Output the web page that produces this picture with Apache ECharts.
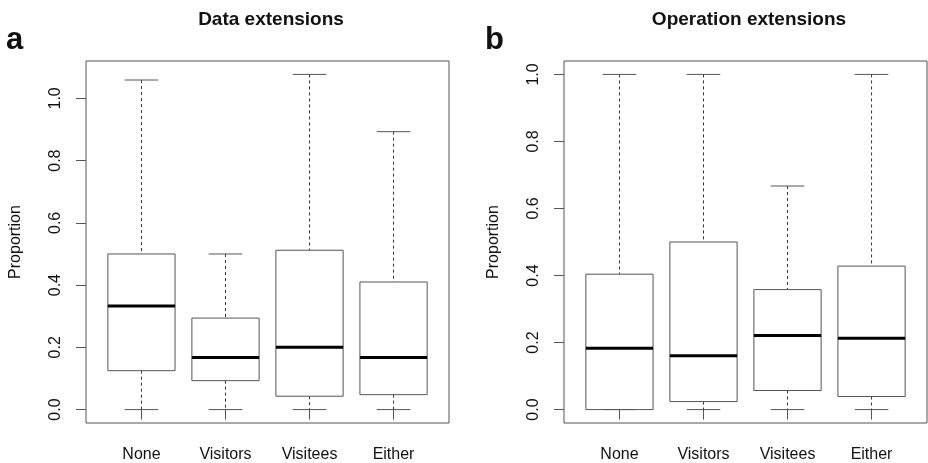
<!DOCTYPE html>
<html>
<head>
<meta charset="utf-8">
<script src="https://cdn.jsdelivr.net/npm/echarts@6/dist/echarts.min.js"></script>
<style>
  html, body { margin: 0; padding: 0; background: #fff; }
  #chart { width: 928px; height: 463px; }
</style>
</head>
<body>
<div id="chart"></div>
<script>
// categories shared by both panels
const categories = ['None', 'Visitors', 'Visitees', 'Either'];
const yTicks = [0, 0.2, 0.4, 0.6, 0.8, 1.0];

// a: data extensions
const dataMin = [0, 0, 0, 0];
const dataQ1 = [0.125, 0.093, 0.043, 0.048];
const dataMedian = [0.333, 0.167, 0.2, 0.167];
const dataQ3 = [0.5, 0.294, 0.512, 0.41];
const dataMax = [1.059, 0.5, 1.077, 0.893];

// b: operation extensions
const opMin = [0, 0, 0, 0];
const opQ1 = [0, 0.024, 0.057, 0.039];
const opMedian = [0.183, 0.161, 0.221, 0.213];
const opQ3 = [0.404, 0.5, 0.358, 0.428];
const opMax = [1, 1, 0.667, 1];

function rows(lo, q1, med, q3, hi) {
  return categories.map((c, i) => [i + 1, lo[i], q1[i], med[i], q3[i], hi[i]]);
}

// R-style box: dashed whiskers, half-width caps, thick median
function renderBox(params, api) {
  const x = api.value(0);
  const p = (v) => api.coord([x, v]);
  const half = api.size([0.4, 0])[0];
  const cap = half / 2;
  const lo = p(api.value(1)), q1 = p(api.value(2)), med = p(api.value(3));
  const q3 = p(api.value(4)), hi = p(api.value(5));
  const cx = lo[0];
  const grey = { stroke: '#555', lineWidth: 1, fill: null };
  const dash = { stroke: '#333', lineWidth: 1, lineDash: [3, 3] };
  return {
    type: 'group',
    children: [
      { type: 'line', shape: { x1: cx, y1: hi[1], x2: cx, y2: q3[1] }, style: dash },
      { type: 'line', shape: { x1: cx, y1: q1[1], x2: cx, y2: lo[1] }, style: dash },
      { type: 'line', shape: { x1: cx - cap, y1: hi[1], x2: cx + cap, y2: hi[1] }, style: grey },
      { type: 'line', shape: { x1: cx - cap, y1: lo[1], x2: cx + cap, y2: lo[1] }, style: grey },
      { type: 'rect', shape: { x: cx - half, y: q3[1], width: half * 2, height: q1[1] - q3[1] },
        style: { stroke: '#555', lineWidth: 1, fill: '#fff' } },
      { type: 'line', shape: { x1: cx - half, y1: med[1], x2: cx + half, y2: med[1] },
        style: { stroke: '#000', lineWidth: 3 } }
    ]
  };
}

const font = 'Liberation Sans, Arial, sans-serif';

function xAxis(idx) {
  return {
    type: 'value', gridIndex: idx, min: 0.34, max: 4.66,
    axisLine: { show: false }, splitLine: { show: false },
    axisTick: { show: true, length: 10, customValues: [1, 2, 3, 4], lineStyle: { color: '#555' } },
    axisLabel: {
      customValues: [1, 2, 3, 4], margin: 24, fontSize: 16, color: '#111', fontFamily: font,
      formatter: (v) => categories[Math.round(v) - 1]
    }
  };
}

function yAxis(idx, min, max) {
  return {
    type: 'value', gridIndex: idx, min: min, max: max,
    name: 'Proportion', nameLocation: 'middle', nameRotate: 90, nameGap: 62,
    nameTextStyle: { fontSize: 16, color: '#111', fontFamily: font },
    axisLine: { show: false }, splitLine: { show: false },
    axisTick: { show: true, length: 10, customValues: yTicks, lineStyle: { color: '#555' } },
    axisLabel: {
      customValues: yTicks, rotate: 90, margin: 22, fontSize: 16, color: '#111', fontFamily: font,
      formatter: (v) => v.toFixed(1)
    }
  };
}

const chart = echarts.init(document.getElementById('chart'));
chart.setOption({
  animation: false,
  title: [
    { text: 'Data extensions', left: 271, top: 10, padding: 0, textAlign: 'center',
      textStyle: { fontSize: 19, fontWeight: 'bold', color: '#111', fontFamily: font } },
    { text: 'Operation extensions', left: 749, top: 10, padding: 0, textAlign: 'center',
      textStyle: { fontSize: 19, fontWeight: 'bold', color: '#111', fontFamily: font } },
    { text: 'a', left: 6, top: 25, padding: 0,
      textStyle: { fontSize: 31, fontWeight: 'bold', color: '#111', fontFamily: font } },
    { text: 'b', left: 485, top: 25, padding: 0,
      textStyle: { fontSize: 31, fontWeight: 'bold', color: '#111', fontFamily: font } }
  ],
  grid: [
    { left: 86, top: 61, width: 363, height: 362, show: true, borderColor: '#555', borderWidth: 1, backgroundColor: 'transparent' },
    { left: 564, top: 61, width: 363, height: 362, show: true, borderColor: '#555', borderWidth: 1, backgroundColor: 'transparent' }
  ],
  xAxis: [xAxis(0), xAxis(1)],
  yAxis: [yAxis(0, -0.0431, 1.1201), yAxis(1, -0.04, 1.04)],
  series: [
    { type: 'custom', xAxisIndex: 0, yAxisIndex: 0, renderItem: renderBox,
      encode: { x: 0, y: [1, 2, 3, 4, 5] },
      data: rows(dataMin, dataQ1, dataMedian, dataQ3, dataMax) },
    { type: 'custom', xAxisIndex: 1, yAxisIndex: 1, renderItem: renderBox,
      encode: { x: 0, y: [1, 2, 3, 4, 5] },
      data: rows(opMin, opQ1, opMedian, opQ3, opMax) }
  ]
});
</script>
</body>
</html>
